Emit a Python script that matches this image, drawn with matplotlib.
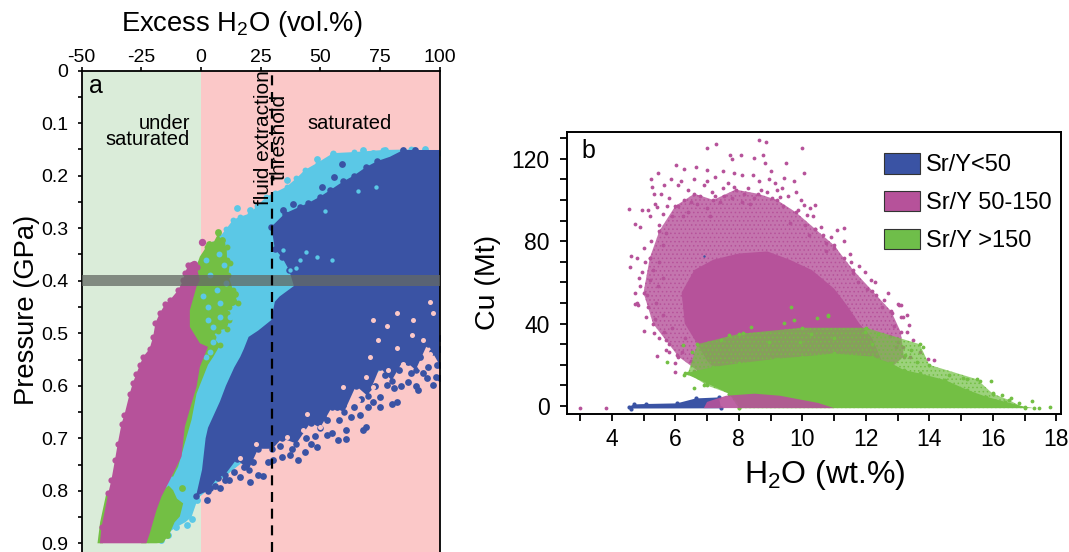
import matplotlib
matplotlib.use('Agg')
import matplotlib.pyplot as plt
from matplotlib.patches import Patch
from matplotlib.ticker import MultipleLocator

plt.rcParams['font.family'] = ['Liberation Sans', 'DejaVu Sans']
plt.rcParams['mathtext.default'] = 'regular'
plt.rcParams['axes.unicode_minus'] = False
plt.rcParams['hatch.linewidth'] = .6

BLUE = '#3a53a4'
CYAN = '#5bc8e6'
MAGENTA = '#b6529a'
GREEN = '#73bf44'
PALE_GREEN = '#daecd9'
PALE_PINK = '#fbc8c8'

# panel a, cloud outlines (excess H2O, pressure)
cyan_outline = [(100, .157), (88, .15), (76.4, .151), (64, .155), (55.4, .157), (49, .175), (43.6, .189), (40, .205),
                (35.9, .221), (31, .232), (27.5, .24), (23.5, .258), (20.5, .272), (16.5, .278), (13.5, .284), (10.5, .302),
                (8, .316), (5, .33), (2.4, .342), (-.4, .367), (-5, .4), (-22, .9), (-15.8, .894), (-13, .878),
                (-10.2, .869), (-6.5, .86), (-3.9, .85), (-2, .825), (-.4, .811), (30, .7), (100, .5)]
blue_outline = [(100, .151), (84.8, .151), (79.2, .164), (74, .172), (69.4, .183), (64, .2), (59.6, .211), (54, .228),
                (49.9, .24), (45, .252), (41.5, .259), (35.2, .272), (29.6, .297), (31, .34), (34, .355), (37, .38),
                (39, .41), (33, .43), (31, .44), (29.5, .475), (24, .495), (20, .507), (18, .53), (16.5, .545),
                (14, .565), (10.5, .6), (8, .63), (6, .65), (3, .68), (2, .7), (.5, .76), (-2, .81),
                (3, .8), (7, .775), (10, .77), (15, .74), (20, .76), (24, .72), (30, .72), (34, .7), (40, .71), (46, .67),
                (50, .68), (55, .64), (60, .65), (65, .6), (70, .62), (75, .565), (80, .59), (85, .55), (90, .57),
                (95, .52), (100, .56)]
green_upper_outline = [(-.4, .354), (2.4, .335), (5, .33), (7.3, .31), (9, .33), (10.8, .335), (11, .36), (12.2, .367),
                       (11.5, .39), (13.5, .418), (15.6, .443), (12, .45), (10.8, .462), (12, .475), (10.8, .491), (7, .495),
                       (5.2, .507), (8, .523), (5.2, .545), (3, .56), (1, .583), (-1.8, .615), (-3.9, .665), (-6.7, .709),
                       (-9.5, .754), (-11.6, .773), (-14, .773), (-6, .5), (-4, .4)]
green_lower_outline = [(-15.8, .799), (-13.5, .79), (-11.6, .799), (-10, .815), (-7.4, .824), (-8.8, .849), (-11, .86),
                       (-13, .881), (-15.8, .899), (-18.6, .9), (-25, .9), (-22, .85)]
green_left_outline = [(-43.3, .9), (-42.2, .86), (-39.6, .805), (-38, .805), (-41, .9)]
magenta_outline = [(-42.3, .9), (-41.6, .869), (-38.8, .805), (-37.5, .78), (-36, .742), (-34.8, .71), (-33.2, .672),
                   (-32, .655), (-29.8, .615), (-28.5, .595), (-27, .577), (-25.5, .56), (-24.2, .545), (-21.5, .53),
                   (-20, .507), (-19, .48), (-17.2, .462), (-15, .445), (-13, .437), (-9.5, .418), (-7.4, .399),
                   (-6.7, .386), (-5.3, .37), (-1.8, .373), (-.4, .399), (-1.8, .411), (-4.6, .456), (-4.6, .488), (-.4, .519),
                   (3, .526), (-.4, .564), (-1.8, .602), (-3.9, .634), (-6.7, .678), (-8.1, .735), (-13, .78), (-16.5, .811),
                   (-18.6, .837), (-21.4, .881), (-22.8, .9)]

# loose points at the cloud edges
blue_points = [(97.3, .599), (98.7, .583), (94.6, .586), (91.1, .608), (86.9, .592), (82, .63), (79.9, .634),
               (75, .64), (70.1, .64), (66.6, .656), (68, .685), (69.2, .678), (61, .685), (61, .701), (57.5, .704),
               (52.7, .694), (48.5, .716), (43.6, .726), (40.8, .742), (37.3, .732), (30.3, .742), (26.1, .771),
               (20.5, .783), (16.3, .773), (8, .795), (2.4, .818), (59.6, .637), (75, .621), (77.8, .599),
               (84.8, .151), (89.7, .151), (59, .177), (56, .202), (50.6, .221), (49.9, .246), (38.7, .253),
               (34.5, .265), (39.4, .278), (90, .6), (84, .6), (72, .63), (63, .66), (55, .69), (46, .71),
               (34, .735), (24, .77), (12, .78), (6, .79), (100, .51), (100, .53), (99, .56), (93, .575),
               (88, .575), (81, .605), (77, .58), (73, .6), (67, .625), (64, .64), (58, .665), (53, .665), (48, .695),
               (44, .7), (38, .72), (33, .715), (28, .745), (22, .745), (18, .755), (14, .765), (10, .78), (4, .795),
               (97, .535), (92, .545), (87, .555), (83, .57), (70, .605), (57, .64), (51, .66), (95, .565), (100, .585)]
cyan_points = [(15, .262), (48.5, .168), (55.4, .159), (68, .151), (77, .151), (93.9, .149), (43.6, .196),
               (35.9, .208), (20.5, .265), (27.5, .253), (58.2, .164), (62.4, .17), (72.2, .157), (89, .151),
               (-3.9, .853), (-6, .865), (-10.2, .869), (-13.7, .884), (-16.5, .894), (-1.8, .818)]
cyan_specks = [(34.5, .342), (41.5, .361), (48.5, .354), (37.3, .38), (73.6, .221), (44, .345), (55, .36), (40, .375),
               (31, .365), (66, .23), (52, .268)]
cyan_over_green = [(8, .443), (5.2, .488), (3, .475), (12.2, .469), (1, .43), (6.6, .418), (5.2, .516), (9.5, .37),
                   (4, .39), (7.5, .35), (2, .36), (10.5, .405), (3, .45), (8, .47), (2, .545), (4, .535)]
pink_points = [(72.2, .475), (82, .462), (88.3, .503), (70.8, .545), (82, .529), (74.3, .513), (96, .44), (69.4, .583),
               (59.6, .602), (84.8, .558), (91.8, .564), (96, .539), (78.5, .57), (72.2, .602), (55.4, .659),
               (49.9, .678), (42.9, .685), (35.9, .697), (23.3, .71), (16.3, .738), (27.5, .729), (44.3, .653),
               (65.9, .627), (77.8, .487), (89, .475), (97.3, .462), (93.2, .513)]
green_points = [(7.3, .307), (-5.3, .507), (-8.1, .795), (-14, .884), (3.5, .33), (9, .322), (13, .44), (14.5, .425)]
magenta_points = [(.3, .326), (-3.9, .37), (-2.8, .368)]

threshold = 29.9
band = (.389, .4095)

# panel b, outlines (H2O, Cu)
magenta_mid = [(5.3, 40), (5.0, 55), (5.2, 72), (5.5, 85), (6, 97), (6.6, 103), (7.2, 100), (7.9, 105), (8.6, 103),
               (9.2, 100), (9.8, 94), (10.4, 86), (11, 78), (11.6, 66), (12.2, 56), (12.8, 46), (13.1, 36), (13.2, 24),
               (12.6, 16), (7.5, 14), (6.8, 16), (6.1, 24), (5.7, 32)]
magenta_core = [(6.3, 40), (6.2, 55), (6.6, 66), (7.2, 71), (8, 74), (8.9, 75), (9.6, 71), (10.3, 66), (11, 57), (11.4, 49),
                (11.8, 40), (12.2, 33), (12.5, 22), (12.3, 14), (7.5, 14), (7, 22), (6.7, 30)]
magenta_strip = [(6.9, -1), (7, 2), (7.6, 5), (8.5, 6), (9.3, 5), (10.5, 1.5), (11, -1)]
green_mid = [(6.4, 16), (6.7, 30), (8, 35), (10, 38), (12, 38), (13.7, 30), (14, 20), (15.5, 13), (16, 6), (16.5, 3),
             (17, -1), (8, -1), (7.7, 6), (7, 10)]
green_core = [(7, 11), (6.3, 15.8), (7.2, 19), (8, 20.7), (9.2, 23), (10, 24), (11, 25.5), (12.2, 24), (12.8, 20.7),
              (13.2, 17.5), (13.7, 15.8), (14.5, 12.6), (15.2, 7.8), (15.8, 4.5), (16.4, 2), (17, -.3), (17.3, -1),
              (8, -1), (8, 1), (7.7, 6)]
blue_strip = [(4.54, -.3), (4.7, .8), (5.08, 1), (6.05, 1.3), (6.65, 3.7), (7.38, 4.2), (7.44, -1.1), (4.6, -1.2)]

magenta_dots = [(8.65, 129), (8.85, 128), (7.29, 127), (7.01, 125), (10, 125), (7.72, 122), (8.08, 122), (8.77, 122),
                (7.8, 120), (8.47, 120.5), (9.5, 118), (8.83, 118), (6.02, 117), (6.65, 116), (6.29, 115), (7.01, 114.5),
                (7.5, 114), (9, 114), (5.47, 113), (10.04, 113), (7.86, 113), (8.1, 112), (5.22, 110), (5.88, 110),
                (6.17, 109), (6.59, 110), (7.01, 109), (7.26, 111), (8.65, 109), (9.43, 110.5), (9.73, 109), (9.13, 108),
                (5.26, 106.5), (7.5, 105.6), (7.86, 106.5), (9.19, 105), (9.8, 104), (5.32, 103), (5.56, 103), (9.31, 101.6),
                (6.77, 102), (7.26, 102), (5.8, 100.8), (8.47, 100.8), (6.29, 100), (10.4, 97.5), (10.04, 97.5), (4.54, 95.4),
                (4.96, 95), (5.14, 95), (9.86, 95), (5.44, 96.7), (10.16, 92.7), (10.34, 92), (5.2, 92), (10.58, 87),
                (11.31, 86.5), (11.1, 85.4), (4.72, 88.3), (4.9, 87), (10.64, 83), (11.31, 80), (10.76, 79), (11, 76.5),
                (4.6, 73), (4.78, 72), (4.57, 67.6), (5.02, 76.5), (4.96, 65), (5.2, 61), (4.74, 54.7), (11.55, 70),
                (11.97, 65), (12.15, 61), (11.6, 64.4), (12.33, 54), (12.58, 51.4), (13, 49.3), (13.12, 49), (13.12, 43.3),
                (12.82, 45), (4.78, 49.8), (5.08, 43.3), (4.72, 49.5), (4.84, 49), (13.06, 49), (13.36, 39.3), (13.18, 43),
                (13.3, 36), (12.94, 28.8), (13.18, 28.8), (14.15, 22.3), (13.97, 22.6), (5.02, 36.6), (5.32, 35.3),
                (5.5, 32.8), (5.41, 24.3), (6.05, 24.7), (5.8, 26.4), (5.99, 20.7), (5.99, 16.7), (3, -.8), (3.81, -.8),
                (5.5, 88), (5.7, 84), (5.9, 92), (6.1, 97), (6.4, 94), (6.7, 98), (7, 96), (7.4, 99), (7.8, 101), (8.1, 99),
                (8.9, 104), (9.4, 97), (10.1, 88), (10.4, 86), (10.9, 82), (11.5, 74), (11.8, 68), (12.3, 60), (12.7, 55),
                (13.3, 44), (13.5, 32), (13.7, 26), (5.1, 54), (5.4, 50), (5.6, 44), (5.9, 38), (5.5, 70), (5.2, 72),
                (5.6, 78), (4.9, 58), (6.2, 26), (6.5, 22), (6.6, 17), (6.3, 33), (5.8, 30),
                (6.1, 107), (6.4, 105), (6.9, 107), (7.15, 104), (7.65, 108), (8.3, 106), (8.45, 112), (8.95, 110), (9.35, 106),
                (9.55, 102), (9.95, 100), (10.25, 96), (5.65, 107), (5.75, 97), (6.5, 99), (7.55, 102), (8.15, 103), (8.7, 105),
                (9.05, 101), (5.35, 98), (5.6, 93), (6.25, 92), (7.1, 92), (8.35, 98), (9.6, 89), (10.2, 83), (10.75, 75),
                (11.3, 72), (11.75, 60), (12.05, 57), (12.5, 48), (12.9, 39), (12.75, 34), (13, 31), (13.4, 24), (5.25, 80),
                (5.05, 70), (4.85, 62), (5.3, 66), (5.45, 58), (5.6, 62), (5.15, 48), (5.35, 42), (5.65, 36), (5.7, 27)]
green_dots = [(6.23, 29.6), (6.53, 26.4), (5.75, 21.5), (6.29, 15), (6.59, 8.6), (6.89, 10), (7.44, 32), (7.68, 34.4),
              (8.13, 35.3), (8.4, 38.5), (8.95, 31), (9.43, 40.4), (9.73, 41.7), (10.45, 42.5), (10.82, 44), (9.65, 48),
              (10.82, 43.8), (10.28, 35), (9.92, 31), (11, 32.8), (11.97, 36), (12.4, 35), (12.2, 30), (13.79, 28.8),
              (13.42, 27), (13.24, 24.7), (13.6, 21.5), (14.63, 15), (15.05, 13.4), (15.2, 13), (15.6, 12), (15.94, 12.3),
              (16.3, 5.3), (17.23, 2.6), (17.47, -.8), (17.8, -.6), (16.83, 1.6), (16.56, 3.7), (16.02, 6.1)]
stray_blue = [(6.92, 73)]

legend_labels = ['Sr/Y<50', 'Sr/Y 50-150', 'Sr/Y >150']
legend_colors = [BLUE, MAGENTA, '#6fbe4a']

FIG_W, FIG_H = 1069, 552


def axes_px(left, top, right, bottom):
    return [left / FIG_W, 1 - bottom / FIG_H, (right - left) / FIG_W, (bottom - top) / FIG_H]


def fill(ax, outline, color, alpha=1, z=2):
    xs, ys = zip(*outline)
    ax.fill(xs, ys, color=color, alpha=alpha, lw=0, zorder=z)


def stipple(ax, outline, color, z=2):
    xs, ys = zip(*outline)
    ax.fill(xs, ys, facecolor='none', edgecolor=color, hatch='....', lw=0, zorder=z)


def dots(ax, points, color, size, z=2):
    xs, ys = zip(*points)
    ax.scatter(xs, ys, s=size, color=color, linewidths=0, zorder=z)


fig = plt.figure(figsize=(FIG_W / 100, FIG_H / 100), dpi=100)

# panel a
ax = fig.add_axes(axes_px(81.5, 70.7, 439.5, 552))
ax.set_xlim(-50, 100)
ax.set_ylim(.9166, 0)
ax.axvspan(-50, 0, color=PALE_GREEN, lw=0, zorder=0)
ax.axvspan(0, 100, color=PALE_PINK, lw=0, zorder=0)

fill(ax, cyan_outline, CYAN, z=1)
dots(ax, cyan_outline[:20], CYAN, 18, z=1)
dots(ax, cyan_points, CYAN, 24, z=1)
fill(ax, blue_outline, BLUE, z=2)
dots(ax, blue_outline[3:16], BLUE, 22, z=2)
dots(ax, blue_outline[31:], BLUE, 22, z=2)
dots(ax, blue_points, BLUE, 24, z=2)
dots(ax, cyan_specks, CYAN, 10, z=2.1)
dots(ax, pink_points, PALE_PINK, 13, z=2.5)
fill(ax, green_upper_outline, GREEN, z=3)
fill(ax, green_lower_outline, GREEN, z=3)
fill(ax, green_left_outline, GREEN, z=3)
dots(ax, green_upper_outline[1:18], GREEN, 18, z=3)
dots(ax, green_points, GREEN, 24, z=3)
dots(ax, cyan_over_green, CYAN, 18, z=3.2)
fill(ax, magenta_outline, MAGENTA, z=4)
dots(ax, magenta_outline[1:24], MAGENTA, 20, z=4)
dots(ax, magenta_points, MAGENTA, 28, z=4)

ax.axhspan(band[0], band[1], color='#646964', alpha=.75, lw=0, zorder=5)
ax.axvline(threshold, color='black', lw=1.6, ls=(0, (4.5, 3)), zorder=6)

ax.text(-47, .03, 'a', fontsize=18, va='center', ha='left', zorder=7)
ax.text(-4.5, .116, 'under\nsaturated', fontsize=14.5, va='center', ha='right', multialignment='right',
        linespacing=.85, zorder=7)
ax.text(62.5, .1, 'saturated', fontsize=14.5, va='center', ha='center', zorder=7)
ax.text(29.5, .127, 'fluid extraction\nthreshold', fontsize=15, rotation=90, va='center', ha='center',
        multialignment='center', linespacing=.72, zorder=7)

ax.xaxis.tick_top()
ax.set_xticks(range(-50, 101, 25))
ax.yaxis.set_minor_locator(MultipleLocator(.05))
ax.set_yticks([0, .1, .2, .3, .4, .5, .6, .7, .8, .9])
ax.set_yticklabels(['0', '0.1', '0.2', '0.3', '0.4', '0.5', '0.6', '0.7', '0.8', '0.9'])
ax.tick_params(which='both', length=2.8, width=1.2, labelsize=14)
ax.tick_params(axis='x', pad=.5)
ax.tick_params(axis='y', pad=6.5)
ax.spines['bottom'].set_visible(False)
for s in ('left', 'right', 'top'):
    ax.spines[s].set_linewidth(1.3)
fig.text(242 / FIG_W, 1 - 24 / FIG_H, 'Excess H$_2$O (vol.%)', fontsize=19.7, ha='center', va='center')
fig.text(27 / FIG_W, 1 - 310 / FIG_H, 'Pressure (GPa)', fontsize=19.7, rotation=90, ha='center', va='center')

# panel b
bx = fig.add_axes(axes_px(567, 132.3, 1060.7, 414.3))
bx.set_xlim(2.59, 18.14)
bx.set_ylim(-4, 132.8)

fill(bx, magenta_mid, MAGENTA, alpha=.8, z=1)
stipple(bx, magenta_mid, MAGENTA, z=1.1)
fill(bx, magenta_core, MAGENTA, z=1.2)
dots(bx, magenta_dots, MAGENTA, 7.5, z=1.3)
dots(bx, magenta_mid, MAGENTA, 7.5, z=1.3)
dots(bx, stray_blue, BLUE, 3, z=1.4)
fill(bx, green_mid, GREEN, alpha=.7, z=2)
stipple(bx, green_mid, GREEN, z=2.1)
fill(bx, green_core, GREEN, z=2.2)
dots(bx, green_mid, GREEN, 7.5, z=2.3)
dots(bx, green_core, GREEN, 7.5, z=2.3)
dots(bx, green_dots, GREEN, 7.5, z=2.3)
fill(bx, blue_strip, BLUE, z=3)
dots(bx, blue_strip, BLUE, 9, z=3)
fill(bx, magenta_strip, MAGENTA, alpha=.9, z=3.2)

bx.text(3.05, 123.5, 'b', fontsize=18, va='center', ha='left')
bx.set_xticks(range(3, 19))
bx.set_xticklabels([str(v) if v % 2 == 0 else '' for v in range(3, 19)])
bx.set_yticks(range(0, 131, 10))
bx.set_yticklabels([str(v) if v % 40 == 0 else '' for v in range(0, 131, 10)])
bx.tick_params(length=5, width=1.3, labelsize=16.5, pad=5)
bx.tick_params(axis='y', pad=7.5)
for s in bx.spines.values():
    s.set_linewidth(1.4)
fig.text(825 / FIG_W, 1 - 475 / FIG_H, 'H$_2$O (wt.%)', fontsize=23, ha='center', va='center')
fig.text(488 / FIG_W, 1 - 282 / FIG_H, 'Cu (Mt)', fontsize=20.5, rotation=90, ha='center', va='center')

handles = [Patch(facecolor=c, edgecolor='#333333', linewidth=.8) for c in legend_colors]
bx.legend(handles, legend_labels, loc='upper left', bbox_to_anchor=(.643, .926), frameon=False, fontsize=17,
          handlelength=1.5, handleheight=.95, labelspacing=.62, handletextpad=.27, borderpad=0, borderaxespad=0)

fig.savefig('out.png', dpi=100)
